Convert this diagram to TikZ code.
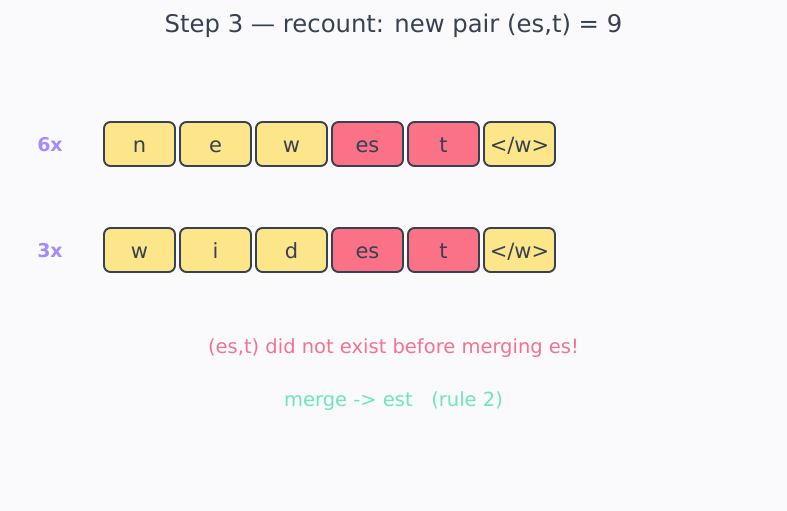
\documentclass[tikz,border=0pt]{standalone}
\usepackage{fontspec}
\setmainfont{DejaVu Sans}
\definecolor{bg}{HTML}{FAFAFD}
\definecolor{ink}{HTML}{374151}
\definecolor{tokyel}{HTML}{FDE68A}
\definecolor{tokred}{HTML}{FB7185}
\definecolor{cntpur}{HTML}{A78BFA}
\definecolor{warnred}{HTML}{F47290}
\definecolor{okgreen}{HTML}{6EE7B7}
\tikzset{
  tok/.style={draw=ink, line width=1.9pt, rounded corners=6.5pt, minimum width=71pt, minimum height=44pt, inner sep=0pt, text=ink, font=\fontsize{21}{23}\selectfont, text height=17pt, text depth=1pt},
  yel/.style={tok, fill=tokyel},
  red/.style={tok, fill=tokred},
  cnt/.style={text=cntpur, font=\fontsize{19}{21}\selectfont\bfseries},
}
\begin{document}
\begin{tikzpicture}[x=1pt,y=-1pt]
\fill[bg] (0,0) rectangle (787,511);
\useasboundingbox (0,0) rectangle (787,511);
\node[text=ink, font=\fontsize{24.3}{27}\selectfont, anchor=base] (title) at (393.5,33) {Step 3 — recount: new pair (es,t) = 9};
\node[cnt] (c1) at (50,145) {6x};
\node[cnt] (c2) at (50,251) {3x};
\node[yel] (a1) at (139.5,144) {n};
\node[yel] (a2) at (215.5,144) {e};
\node[yel] (a3) at (291.5,144) {w};
\node[red] (a4) at (367.5,144) {es};
\node[red] (a5) at (443.5,144) {t};
\node[yel] (a6) at (519.5,144) {</w>};
\node[yel] (b1) at (139.5,250) {w};
\node[yel] (b2) at (215.5,250) {i};
\node[yel] (b3) at (291.5,250) {d};
\node[red] (b4) at (367.5,250) {es};
\node[red] (b5) at (443.5,250) {t};
\node[yel] (b6) at (519.5,250) {</w>};
\node[text=warnred, font=\fontsize{19.5}{22}\selectfont] (note) at (393.5,348) {(es,t) did not exist before merging es!};
\node[text=okgreen, font=\fontsize{19.5}{22}\selectfont] (merge) at (393.5,401) {merge -> est\ \ \ (rule 2)};
\end{tikzpicture}
\end{document}
